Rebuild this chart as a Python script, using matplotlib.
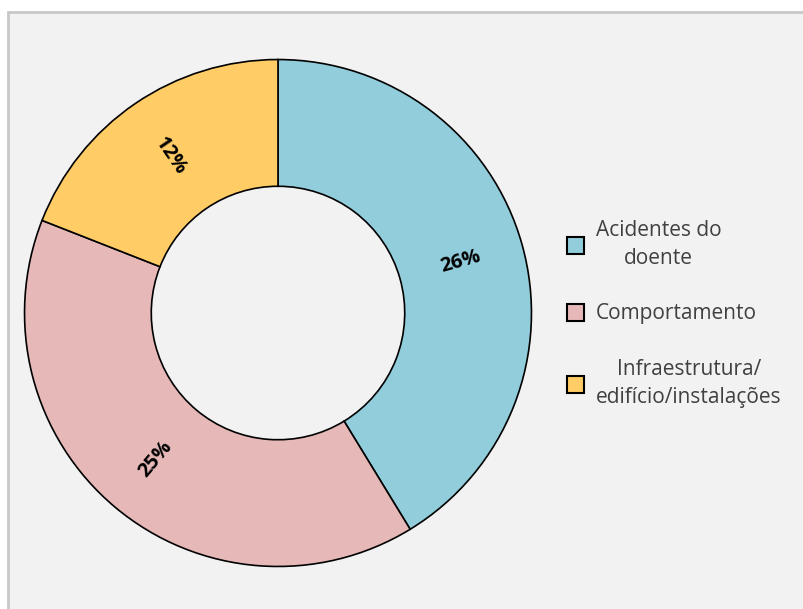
import numpy as np
import matplotlib.pyplot as plt
from matplotlib.patches import Rectangle, Patch

categories = ["Acidentes do\ndoente", "Comportamento", "Infraestrutura/\nedifício/instalações"]
values = [26, 25, 12]
labels = ["26%", "25%", "12%"]
colors = ["#92cddc", "#e6b9b8", "#ffcc66"]

plt.rcParams["font.family"] = ["Open Sans", "DejaVu Sans"]

W, H = 804, 609
fig = plt.figure(figsize=(W / 100, H / 100), dpi=100, facecolor="white")

# grey panel behind the chart
fig.patches.append(Rectangle((8 / W, -0.1), 1.1, 1 - 12 / H + 0.1, transform=fig.transFigure,
                             facecolor="#f2f2f2", edgecolor="#c8c8c8", linewidth=2, zorder=-10))

cx, cy, R = 278, 313, 256
ax = fig.add_axes([(cx - R) / W, (H - cy - R) / H, 2 * R / W, 2 * R / H])
ax.set_facecolor("none")

wedges, _ = ax.pie(values, colors=colors, startangle=90, counterclock=False, radius=1.0,
                   wedgeprops=dict(width=0.5, edgecolor="black", linewidth=1.2))
ax.set_xlim(-1.01, 1.01)
ax.set_ylim(-1.01, 1.01)
ax.set_aspect("equal")

for w, lab in zip(wedges, labels):
    mid = (w.theta1 + w.theta2) / 2
    x = 0.75 * np.cos(np.radians(mid))
    y = 0.75 * np.sin(np.radians(mid))
    rot = mid
    if rot > 90:
        rot -= 180
    elif rot < -90:
        rot += 180
    ax.text(x, y, lab, ha="center", va="center", rotation=rot, rotation_mode="anchor",
            fontsize=14.5, fontweight="bold", color="black")

handles = [Patch(facecolor=c, edgecolor="black", linewidth=1.5) for c in colors]
leg = fig.legend(handles, categories, loc="center left", bbox_to_anchor=(548 / W, 1 - 314 / H),
                 frameon=False, fontsize=15, labelcolor="#404040", labelspacing=1.65,
                 handlelength=0.85, handleheight=0.85, handletextpad=0.55)
for t in leg.get_texts():
    t.set_multialignment("center")
    t.set_linespacing(1.45)

fig.savefig("out.png", dpi=100, facecolor="white")
